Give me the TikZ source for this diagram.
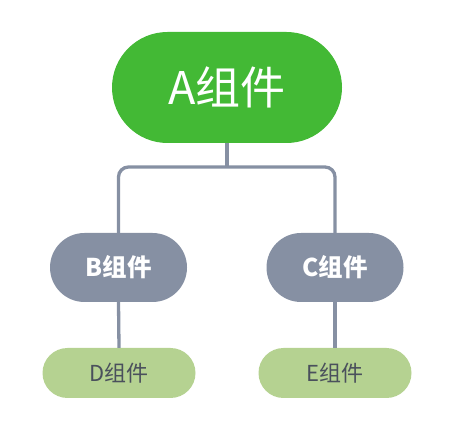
\documentclass[tikz,border=0pt]{standalone}
\usepackage{fontspec}
\setmainfont{Noto Sans CJK SC}
\definecolor{agreen}{HTML}{43B935}
\definecolor{slate}{HTML}{8690A3}
\definecolor{lgreen}{HTML}{B5D291}
\definecolor{dtext}{HTML}{4A505C}
\tikzset{
  top/.style={fill=agreen, text=white, minimum width=230pt, minimum height=111pt, rounded corners=55.5pt, inner sep=0pt, font=\fontsize{45}{50}\selectfont},
  mid/.style={fill=slate, text=white, minimum width=137pt, minimum height=69pt, rounded corners=34.5pt, inner sep=0pt, font=\bfseries\fontsize{24.5}{28}\selectfont},
  leaf/.style={fill=lgreen, text=dtext, minimum width=153pt, minimum height=50pt, rounded corners=25pt, inner sep=0pt, font=\fontsize{22}{26}\selectfont},
  conn/.style={draw=slate, line width=3.3pt}
}
\begin{document}
\begin{tikzpicture}[x=1pt,y=-1pt]
\useasboundingbox (0,0) rectangle (467,441);
\node[top] (A) at (227,87.5) {A组件};
\node[mid] (B) at (118.5,267.5) {B组件};
\node[mid] (C) at (335,267.5) {C组件};
\node[leaf] (D) at (119,373) {D组件};
\node[leaf] (E) at (335,373) {E组件};
\coordinate (bar) at (227,167);
\draw[conn] (A.south) -- (bar);
\draw[conn, rounded corners=10pt] (B.north) |- (bar) -| (C.north);
\draw[conn] (B.south) -- (D.north);
\draw[conn] (C.south) -- (E.north);
\end{tikzpicture}
\end{document}
